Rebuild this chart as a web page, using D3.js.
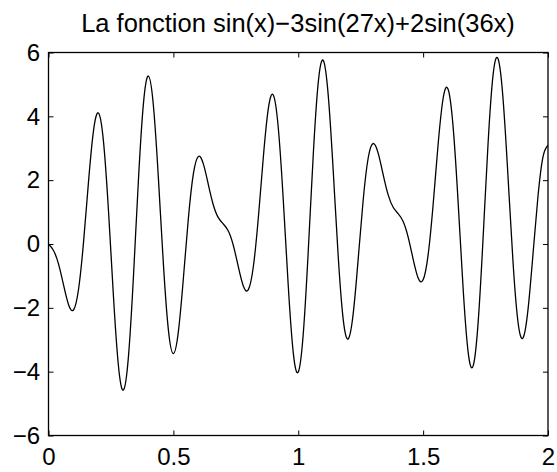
<!DOCTYPE html>
<html><head><meta charset="utf-8">
<script src="https://cdn.jsdelivr.net/npm/d3@7"></script>
<style>body{margin:0;background:#fff}svg{display:block}text{font-family:"Liberation Sans",Arial,Helvetica,sans-serif;fill:#000}</style>
</head><body>
<script>
const titleText = "La fonction sin(x)\u22123sin(27x)+2sin(36x)";
const xValues = d3.range(0, 101).map(k => +(k * 0.02).toFixed(2));
const yValues = [
 0.0000,-0.2035,-0.6227,-1.2746,-1.8956,-2.0674,-1.4337,0.0338,1.9319,3.5373,
 4.1045,3.2233,1.0646,-1.6293,-3.8135,-4.5760,-3.5369,-1.0349,1.9920,4.3897,
 5.2635,4.3411,2.0641,-0.6236,-2.6887,-3.4340,-2.7474,-1.0830,0.7997,2.1962,
 2.7444,2.5104,1.8636,1.2237,0.8249,0.6274,0.4059,-0.0435,-0.7113,-1.3177,
 -1.4299,-0.7197,0.8056,2.7035,4.2342,4.6673,3.6437,1.3882,-1.3107,-3.4036,
 -4.0113,-2.8190,-0.2293,2.7787,5.0547,5.7515,4.6636,2.2940,-0.3864,-2.3599,
 -2.9739,-2.1822,-0.4729,1.3791,2.6941,3.1488,2.8458,2.1728,1.5378,1.1520,
 0.9515,0.7031,0.2168,-0.4739,-1.0644,-1.1222,-0.3413,1.2304,3.1156,4.5587,
 4.8497,3.6787,1.3283,-1.3725,-3.3707,-3.8254,-2.4879,0.1741,3.1473,5.2906,
 5.8048,4.5525,2.0950,-0.5730,-2.4528,-2.9439,-2.0504,-0.3081,1.5049,2.7325,
 3.0930
];
const xTicks = [0, 0.5, 1, 1.5, 2];
const xTickLabels = ["0", "0.5", "1", "1.5", "2"];
const yTicks = [-6, -4, -2, 0, 2, 4, 6];
const yTickLabels = ["\u22126", "\u22124", "\u22122", "0", "2", "4", "6"];

const W = 557, H = 472;
const L = 48.5, R = 548, T = 52.5, B = 435.5;
const svg = d3.select("body").append("svg").attr("width", W).attr("height", H);
const x = d3.scaleLinear().domain([0, 2]).range([L, R]);
const y = d3.scaleLinear().domain([-6, 6]).range([B, T]);

const data = xValues.map((v, i) => [v, yValues[i]]);
const line = d3.line().x(d => x(d[0])).y(d => y(d[1])).curve(d3.curveNatural);

svg.append("defs").append("clipPath").attr("id", "clip")
  .append("rect").attr("x", L).attr("y", T).attr("width", R - L).attr("height", B - T);

svg.append("path").datum(data).attr("d", line).attr("fill", "none")
  .attr("stroke", "#000").attr("stroke-width", 1.3).attr("clip-path", "url(#clip)");

const tl = 5;
const gB = svg.append("g").attr("transform", `translate(0,${B})`)
  .call(d3.axisBottom(x).tickValues(xTicks).tickSize(-tl).tickPadding(12.5).tickFormat((d, i) => xTickLabels[i]));
const gT = svg.append("g").attr("transform", `translate(0,${T})`)
  .call(d3.axisTop(x).tickValues(xTicks).tickSize(-tl).tickFormat(""));
const gL = svg.append("g").attr("transform", `translate(${L},0)`)
  .call(d3.axisLeft(y).tickValues(yTicks).tickSize(-tl).tickPadding(8.5).tickFormat((d, i) => yTickLabels[i]));
const gR = svg.append("g").attr("transform", `translate(${R},0)`)
  .call(d3.axisRight(y).tickValues(yTicks).tickSize(-tl).tickFormat(""));
[gB, gT, gL, gR].forEach(g => {
  g.select(".domain").remove();
  g.selectAll("line").attr("stroke", "#000").attr("stroke-width", 1);
  g.selectAll("text").attr("font-size", 24).attr("fill", "#000")
    .attr("font-family", "'Liberation Sans', Arial, sans-serif");
});
gB.selectAll("text").attr("dy", "0.71em");

svg.append("rect").attr("x", L).attr("y", T).attr("width", R - L).attr("height", B - T)
  .attr("fill", "none").attr("stroke", "#000").attr("stroke-width", 1.3);

svg.append("text").attr("x", 298).attr("y", 32).attr("text-anchor", "middle")
  .attr("font-size", 25.5).text(titleText);
</script>
</body></html>
